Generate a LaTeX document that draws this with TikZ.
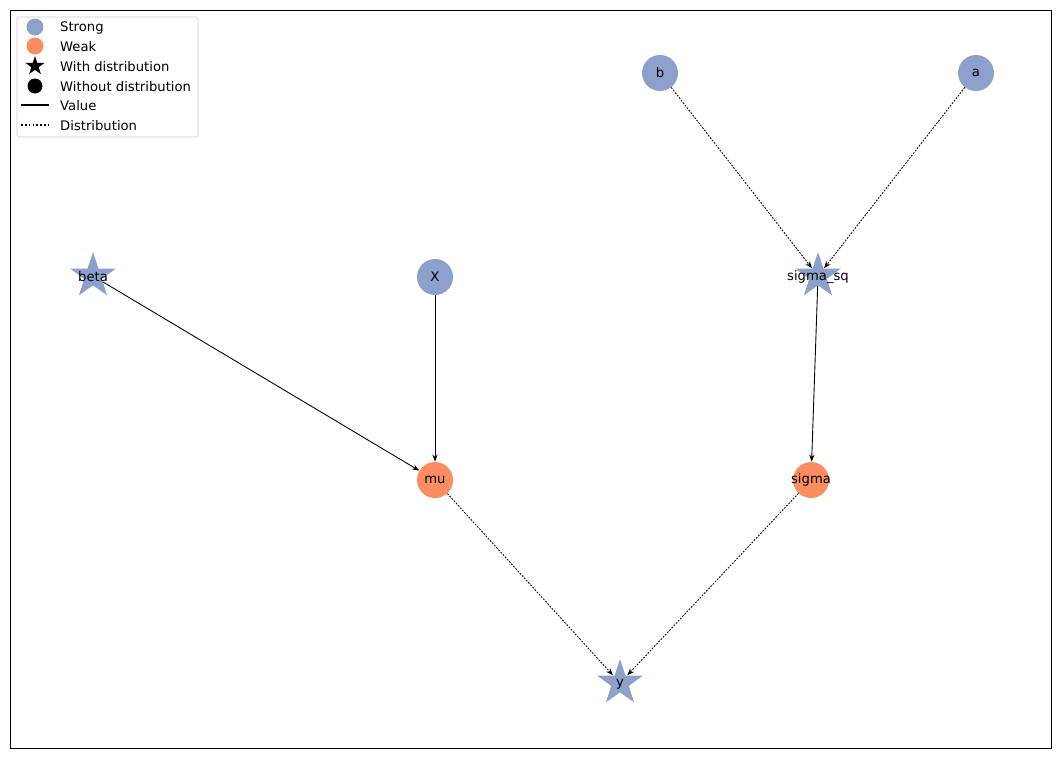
\documentclass[tikz,border=0pt]{standalone}
\usepackage{fontspec}
\setmainfont{DejaVu Sans}
\usetikzlibrary{shapes.geometric,arrows.meta}
\definecolor{strong}{HTML}{8DA0CB}
\definecolor{weak}{HTML}{FC8D62}
\tikzset{
    every node/.style={font=\fontsize{7.5}{9}\selectfont},
    dot/.style={circle, fill=#1, draw=none, minimum size=0.72cm, inner sep=0pt},
    starnode/.style={star, star points=5, star point ratio=2.6, fill=#1, draw=none, minimum size=0.96cm, inner sep=0pt},
    val/.style={-{Stealth[length=4pt,width=3pt]}, line width=0.5pt},
    dist/.style={-{Stealth[length=4pt,width=3pt]}, line width=0.5pt, dash pattern=on 1pt off 0.8pt},
}
\begin{document}
\begin{tikzpicture}[x=0.02cm, y=-0.02cm]
    \useasboundingbox (0,0) rectangle (1060,758);
    \draw[line width=0.5pt] (10,10) rectangle (1051,748);

    % nodes
    \node[dot=strong, label={center:b}] (b) at (660,73) {};
    \node[dot=strong, label={center:a}] (a) at (976,73) {};
    \node[starnode=strong] (beta) at (93,276) {};
    \node[dot=strong, label={center:X}] (X) at (435,277) {};
    \node[starnode=strong] (sigmasq) at (818,276) {};
    \node[dot=weak, label={center:mu}] (mu) at (435,480) {};
    \node[dot=weak, label={center:sigma}] (sigma) at (811,480) {};
    \node[starnode=strong] (y) at (620,683) {};
    \node (betatxt) at (93,277) {beta};
    \node (sigmasqtxt) at (818,277) {sigma\_sq};
    \node (ytxt) at (620,684) {y};

    % edges
    \draw[dist] (b) -- (sigmasq);
    \draw[dist] (a) -- (sigmasq);
    \draw[val] (beta) -- (mu);
    \draw[val] (X) -- (mu);
    \draw[val] (sigmasq) -- (sigma);
    \draw[dist] (mu) -- (y);
    \draw[dist] (sigma) -- (y);

    % legend
    \draw[black!20, fill=white, rounded corners=1pt] (17,17) rectangle (198,137);
    \node[circle, fill=strong, minimum size=0.34cm, inner sep=0pt] (lg1) at (35,27) {};
    \node[circle, fill=weak, minimum size=0.34cm, inner sep=0pt] (lg2) at (35,46) {};
    \node[star, star points=5, star point ratio=2.6, fill=black, minimum size=0.4cm, inner sep=0pt] (lg3) at (35,66) {};
    \node[circle, fill=black, minimum size=0.3cm, inner sep=0pt] (lg4) at (35,86) {};
    \coordinate (lg5a) at (21,105); \coordinate (lg5b) at (49,105);
    \coordinate (lg6a) at (21,125); \coordinate (lg6b) at (49,125);
    \draw[line width=0.7pt] (lg5a) -- (lg5b);
    \draw[line width=0.7pt, dash pattern=on 1pt off 1.2pt] (lg6a) -- (lg6b);
    \node[anchor=west] at (54,28) {Strong};
    \node[anchor=west] at (54,47) {Weak};
    \node[anchor=west] at (54,67) {With distribution};
    \node[anchor=west] at (54,87) {Without distribution};
    \node[anchor=west] at (54,106) {Value};
    \node[anchor=west] at (54,126) {Distribution};
\end{tikzpicture}
\end{document}
